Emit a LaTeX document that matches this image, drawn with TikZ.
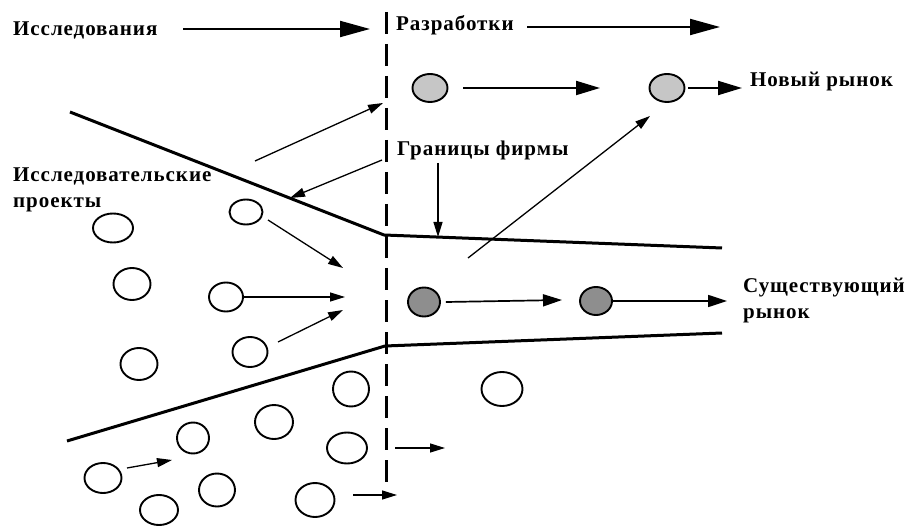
\documentclass[tikz,border=0pt]{standalone}
\usepackage{fontspec}
\setmainfont{Liberation Serif}
\usetikzlibrary{arrows.meta,shapes.geometric}
\begin{document}
\begin{tikzpicture}[x=1pt,y=-1pt,
  lbl/.style={font=\fontsize{21}{26}\selectfont\bfseries\addfontfeature{LetterSpace=4.5}, inner sep=0pt, anchor=base west},
  circ/.style={ellipse, draw, line width=1.9pt, inner sep=0pt},
  wcirc/.style={circ, fill=white},
  lgcirc/.style={circ, fill=lightg},
  dgcirc/.style={circ, fill=darkg},
  bigarr/.style={line width=2pt, -{Triangle[length=30pt,width=16pt]}},
  midarr/.style={line width=2pt, -{Triangle[length=24pt,width=14pt]}},
  smallarr/.style={line width=1.7pt, -{Triangle[length=19pt,width=12pt]}},
  thinarr/.style={line width=1.3pt, -{Triangle[length=15pt,width=9pt]}},
  bound/.style={line width=3pt, line join=round},
  divider/.style={line width=3pt, dash pattern=on 22pt off 10pt},
]
\definecolor{lightg}{HTML}{C6C6C6}
\definecolor{darkg}{HTML}{8E8E8E}
\useasboundingbox[fill=white] (0,0) rectangle (909,526);

% labels
\node[lbl] (research) at (13,36) {Исследования};
\node[lbl] (dev) at (396,31) {Разработки};
\node[lbl] (newmkt) at (750,87) {Новый рынок};
\node[lbl] (firm) at (397,156) {Границы фирмы};
\node[lbl] (proj1) at (13,182) {Исследовательские};
\node[lbl] (proj2) at (13,208) {проекты};
\node[lbl] (exist1) at (743,292) {Существующий};
\node[lbl] (exist2) at (743,318) {рынок};

% divider
\coordinate (dtop) at (386,12);
\coordinate (dbot) at (386,492);
\draw[divider] (dtop) -- (dbot);

% firm boundaries
\coordinate (ua) at (70,112);
\coordinate (ub) at (384,235);
\coordinate (uc) at (722,248);
\coordinate (la) at (67,441);
\coordinate (lb) at (385,346);
\coordinate (lc) at (722,333);
\draw[bound] (ua) -- (ub) -- (uc);
\draw[bound] (la) -- (lb) -- (lc);

% circles
\node[lgcirc, minimum width=35pt, minimum height=28pt] (g1) at (430,88) {};
\node[lgcirc, minimum width=35pt, minimum height=28pt] (g2) at (667,88) {};
\node[dgcirc, minimum width=32pt, minimum height=29pt] (k1) at (424,302) {};
\node[dgcirc, minimum width=32pt, minimum height=28pt] (k2) at (596,301) {};

\node[wcirc, minimum width=33pt, minimum height=25pt] (c1) at (246,212) {};
\node[wcirc, minimum width=40pt, minimum height=29pt] (c2) at (113,228) {};
\node[wcirc, minimum width=37pt, minimum height=32pt] (c3) at (132,284) {};
\node[wcirc, minimum width=34pt, minimum height=29pt] (c4) at (226,297) {};
\node[wcirc, minimum width=37pt, minimum height=32pt] (c5) at (139,364) {};
\node[wcirc, minimum width=35pt, minimum height=30pt] (c6) at (250,352) {};
\node[wcirc, minimum width=36pt, minimum height=35pt] (c7) at (351,389) {};
\node[wcirc, minimum width=38pt, minimum height=34pt] (c8) at (274,422) {};
\node[wcirc, minimum width=32pt, minimum height=31pt] (c9) at (193,438) {};
\node[wcirc, minimum width=40pt, minimum height=31pt] (c10) at (347,448) {};
\node[wcirc, minimum width=37pt, minimum height=30pt] (c11) at (103,478) {};
\node[wcirc, minimum width=36pt, minimum height=33pt] (c12) at (217,490) {};
\node[wcirc, minimum width=38pt, minimum height=30pt] (c13) at (159,510) {};
\node[wcirc, minimum width=39pt, minimum height=34pt] (c14) at (315,500) {};
\node[wcirc, minimum width=41pt, minimum height=34pt] (c15) at (502,389) {};

% top arrows
\coordinate (r0) at (183,29);
\coordinate (r1) at (370,29);
\draw[bigarr] (r0) -- (r1);
\coordinate (d0) at (527,27);
\coordinate (d1) at (720,27);
\draw[bigarr] (d0) -- (d1);

% new market row
\coordinate (g1e) at (600,88);
\draw[midarr] ([xshift=15pt]g1.east) -- (g1e);
\coordinate (nm) at (742,88);
\draw[midarr] ([xshift=3pt]g2.east) -- (nm);

% existing market row
\coordinate (k1e) at (562,300);
\draw[smallarr] ([xshift=5pt]k1.east) -- (k1e);
\coordinate (k2e) at (727,301);
\draw[smallarr] (k2.east) -- (k2e);

% diagonal arrows
\coordinate (s1) at (255,161);
\coordinate (e1) at (383,103);
\draw[thinarr] (s1) -- (e1);
\coordinate (f0) at (382,160);
\coordinate (f1) at (290,198);
\draw[thinarr] (f0) -- (f1);
\coordinate (fd0) at (438,163);
\coordinate (fd1) at (438,237);
\draw[thinarr] (fd0) -- (fd1);
\coordinate (n0) at (468,258);
\coordinate (n1) at (650,116);
\draw[thinarr] (n0) -- (n1);

% left-side arrows
\coordinate (c1s) at (268,220);
\coordinate (c1e) at (343,268);
\draw[thinarr] (c1s) -- (c1e);
\coordinate (c4e) at (345,297);
\draw[thinarr] (c4.east) -- (c4e);
\coordinate (c6s) at (278,342);
\coordinate (c6e) at (343,310);
\draw[thinarr] (c6s) -- (c6e);
\coordinate (c11s) at (127,468);
\coordinate (c11e) at (172,460);
\draw[thinarr] (c11s) -- (c11e);
\coordinate (c14s) at (353,495);
\coordinate (c14e) at (397,495);
\draw[thinarr] (c14s) -- (c14e);
\coordinate (b0) at (395,448);
\coordinate (b1) at (445,448);
\draw[thinarr] (b0) -- (b1);
\end{tikzpicture}
\end{document}
